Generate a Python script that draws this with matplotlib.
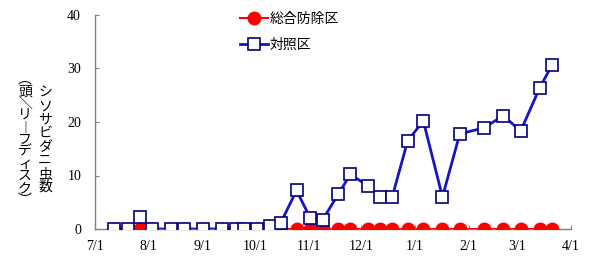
import matplotlib
matplotlib.use('Agg')
import matplotlib.pyplot as plt
import numpy as np

plt.rcParams['font.family'] = ['Noto Sans CJK JP', 'DejaVu Sans']

# survey dates (season Jul -> Mar)
dates = ['2008-07-12', '2008-07-20', '2008-07-27', '2008-08-03', '2008-08-14',
         '2008-08-21', '2008-09-01', '2008-09-12', '2008-09-20', '2008-09-25',
         '2008-10-02', '2008-10-10', '2008-10-16', '2008-10-25', '2008-11-02',
         '2008-11-09', '2008-11-18', '2008-11-25', '2008-12-05', '2008-12-12',
         '2008-12-19', '2008-12-28', '2009-01-06', '2009-01-17', '2009-01-27',
         '2009-02-10', '2009-02-21', '2009-03-03', '2009-03-14', '2009-03-21']
sogo = [0, 0, 0, 0, 0, 0, 0, 0, 0, 0,
        0, 0, 0, 0, 0, 0, 0, 0, 0, 0,
        0, 0, 0, 0, 0, 0, 0, 0, 0, 0]
taisho = [0, 0, 2.3, 0, 0, 0, 0, 0, 0, 0,
          0, 0.6, 1.2, 7.2, 2.0, 1.7, 6.5, 10.2, 8.1, 5.9,
          5.9, 16.5, 20.2, 6.0, 17.8, 18.9, 21.2, 18.3, 26.4, 30.6]
series_names = ['総合防除区', '対照区']
tick_dates = ['2008-07-01', '2008-08-01', '2008-09-01', '2008-10-01', '2008-11-01',
              '2008-12-01', '2009-01-01', '2009-02-01', '2009-03-01', '2009-04-01']
tick_labels = ['7/1', '8/1', '9/1', '10/1', '11/1', '12/1', '1/1', '2/1', '3/1', '4/1']

x = np.array(dates, dtype='datetime64[D]')
xt = np.array(tick_dates, dtype='datetime64[D]')

fig = plt.figure(figsize=(6.05, 2.70), dpi=100)
ax = fig.add_axes([95/605, 1 - 229/270, 476/605, 214/270])

ax.plot(x, sogo, color='#FF0000', lw=1.5, marker='o', ms=9,
        mfc='#FF0000', mec='#FF0000', label=series_names[0], zorder=3)
ax.plot(x, taisho, color='#1414C8', lw=2, marker='s', ms=8,
        mfc='white', mec='#000080', mew=1.2, label=series_names[1], zorder=4)

ax.set_xlim(xt[0], xt[-1])
ax.set_ylim(0, 40)
ax.set_yticks([0, 10, 20, 30, 40])
ax.set_xticks(xt)
ax.set_xticklabels(tick_labels)

for s in ['top', 'right']:
    ax.spines[s].set_visible(False)
for s in ['left', 'bottom']:
    ax.spines[s].set_color('#808080')
    ax.spines[s].set_linewidth(1)
for sp in ax.spines.values():
    sp.set_clip_on(False)

ax.tick_params(axis='both', direction='in', length=3, color='#808080',
               labelsize=9)
ax.tick_params(axis='x', pad=8)
ax.tick_params(axis='y', pad=10)
for lab in ax.get_xticklabels() + ax.get_yticklabels():
    lab.set_family(['Liberation Serif', 'DejaVu Sans'])
    lab.set_fontsize(10)

# legend: red first
ax.legend(loc='upper left', bbox_to_anchor=(0.305, 1.015), frameon=False,
          fontsize=10, handlelength=2.0, handletextpad=0.1,
          labelspacing=0.85, borderpad=0, borderaxespad=0)

# vertical y-axis label (two columns)
col1 = 'シソサビダニ虫数'
col2 = '︵頭＼リ︱フディスク︶'
fig.text(45/605, 1 - 140/270, '\n'.join(col1), ha='center', va='center',
         fontsize=10, linespacing=0.95)
fig.text(25/605, 1 - 140/270, '\n'.join(col2), ha='center', va='center',
         fontsize=10, linespacing=0.82)

fig.savefig('out.png', dpi=100, facecolor='white')
